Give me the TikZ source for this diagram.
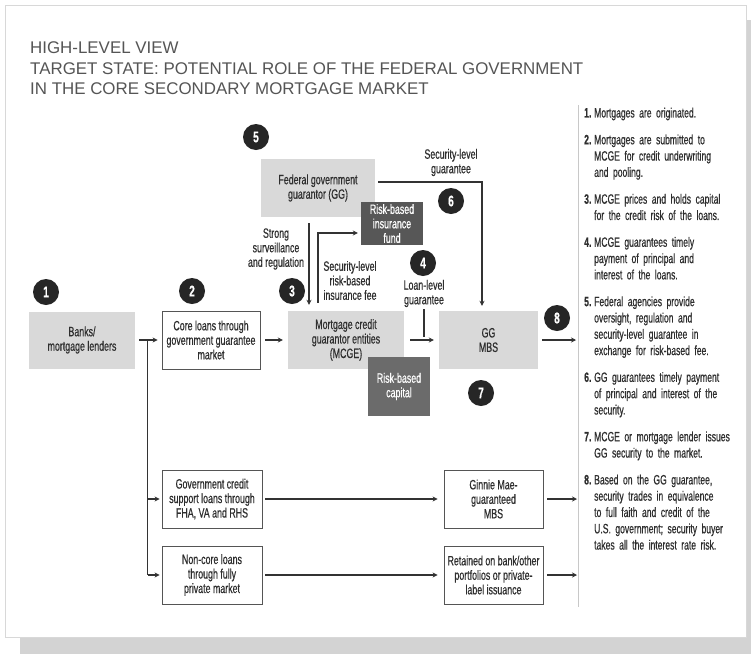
\documentclass[tikz,border=0pt]{standalone}
\usepackage{fontspec}
\setmainfont{Liberation Sans}
\newfontfamily\cond{Liberation Sans}[FakeStretch=0.655, FakeBold=0.5]
\newfontfamily\condl{Liberation Sans}[FakeStretch=0.635, FakeBold=0.5]
\usetikzlibrary{arrows.meta}
\definecolor{lgray}{HTML}{D9D9D9}
\definecolor{fundc}{HTML}{575757}
\definecolor{capc}{HTML}{6B6B6B}
\definecolor{txt}{HTML}{2E2E2E}
\definecolor{circ}{HTML}{262626}
\definecolor{ttl}{HTML}{555555}
\definecolor{linec}{HTML}{333333}
\definecolor{bord}{HTML}{555555}
\definecolor{panelb}{HTML}{D8D8D8}
\definecolor{shadowc}{HTML}{D3D3D3}
\definecolor{sepc}{HTML}{C8C8C8}
\newcommand\bxf{\cond\fontsize{13.5}{14.5}\selectfont}
\newcommand\lstf{\condl\fontsize{13.5}{16.3}\selectfont}
\newcommand\numf{\cond\bfseries\fontsize{15.5}{15.5}\selectfont}
\newcommand\lstitem[2]{\hangindent=10pt\hangafter=1\makebox[10pt][l]{\textbf{#1.}}#2\par}
\begin{document}
\begin{tikzpicture}[x=1pt,y=-1pt,
  gbox/.style={fill=lgray, draw=none, inner sep=0pt, align=center, font=\bxf, text=txt},
  wbox/.style={fill=white, draw=bord, line width=0.8pt, inner sep=0pt, align=center, font=\bxf, text=txt},
  dbox/.style={draw=none, inner sep=0pt, align=center, font=\bxf, text=white},
  num/.style={circle, fill=circ, text=white, minimum size=26pt, inner sep=0pt, font=\numf},
  lbl/.style={align=center, font=\bxf, text=txt, inner sep=0pt},
  arr/.style={draw=linec, line width=1.3pt, -{Stealth[length=5pt,width=5pt]}},
  ln/.style={draw=linec, line width=1.3pt}]
\useasboundingbox (0,0) rectangle (751,656);
% panel and shadow
\fill[shadowc] (20,20) rectangle (751,654);
\draw[fill=white, draw=panelb, line width=0.8pt] (5,5) rectangle (746,637);
% title
\node[anchor=base west, inner sep=0pt, text=ttl, font=\fontsize{16.9}{20}\selectfont] (t1) at (30,53) {HIGH-LEVEL VIEW};
\node[anchor=base west, inner sep=0pt, text=ttl, font=\fontsize{16.9}{20}\selectfont] (t2) at (30,74) {TARGET STATE: POTENTIAL ROLE OF THE FEDERAL GOVERNMENT};
\node[anchor=base west, inner sep=0pt, text=ttl, font=\fontsize{16.9}{20}\selectfont] (t3) at (30,94) {IN THE CORE SECONDARY MORTGAGE MARKET};
% boxes
\node[gbox, minimum width=106pt, minimum height=57pt] (banks) at (82,340) {Banks/\\mortgage lenders};
\node[wbox, minimum width=98pt, minimum height=58pt] (core) at (211,340) {Core loans through\\government guarantee\\market};
\node[gbox, minimum width=116pt, minimum height=58pt] (mcge) at (346,340) {Mortgage credit\\guarantor entities\\(MCGE)};
\node[dbox, fill=capc, minimum width=62pt, minimum height=59pt] (cap) at (399,386.5) {Risk-based\\capital};
\node[gbox, minimum width=99pt, minimum height=58pt] (ggmbs) at (488.5,340) {GG\\MBS};
\node[gbox, minimum width=114pt, minimum height=58pt] (fgg) at (318,188) {Federal government\\guarantor (GG)};
\node[dbox, fill=fundc, minimum width=62pt, minimum height=43pt] (fund) at (392,223.5) {Risk-based\\insurance\\fund};
\node[wbox, minimum width=100pt, minimum height=58pt] (gov) at (212,499) {Government credit\\support loans through\\FHA, VA and RHS};
\node[wbox, minimum width=99pt, minimum height=58pt] (ginnie) at (493.5,499) {Ginnie Mae-\\guaranteed\\MBS};
\node[wbox, minimum width=100pt, minimum height=58pt] (noncore) at (212,575) {Non-core loans\\through fully\\private market};
\node[wbox, minimum width=99pt, minimum height=58pt] (ret) at (493.5,575) {Retained on bank/other\\portfolios or private-\\label issuance};
% labels
\node[lbl] (lsec) at (451,162.5) {Security-level\\guarantee};
\node[lbl] (lsur) at (276,249) {Strong\\surveillance\\and regulation};
\node[lbl] (lfee) at (350,280.5) {Security-level\\risk-based\\insurance fee};
\node[lbl] (lloan) at (424,293.5) {Loan-level\\guarantee};
% number circles
\node[num] (c1) at (46,292) {1};
\node[num] (c2) at (192,291) {2};
\node[num] (c3) at (292,291) {3};
\node[num] (c4) at (423,263) {4};
\node[num] (c5) at (256,137) {5};
\node[num] (c6) at (451,201) {6};
\node[num] (c7) at (481,393) {7};
\node[num] (c8) at (557,318) {8};
% coordinates
\coordinate (jx) at (147.5,340);
\coordinate (sx) at (309,0);
\coordinate (fx) at (318,0);
\coordinate (ll1) at (424,309);
\coordinate (ll2) at (424,337);
\coordinate (o1) at (576,340);
\coordinate (o2) at (577,499);
\coordinate (o3) at (577,575);
\coordinate (sep1) at (578,105);
\coordinate (sep2) at (578,607);
% connectors
\draw[arr, shorten <=4pt, shorten >=4pt] (banks.east) -- (core.west);
\draw[ln] (jx) -- (jx |- noncore);
\draw[arr, shorten >=2pt] (jx |- gov) -- (gov.west);
\draw[arr, shorten >=2pt] (jx |- noncore) -- (noncore.west);
\draw[arr, shorten <=5pt, shorten >=5pt] (core.east) -- (mcge.west);
\draw[arr, shorten <=6pt, shorten >=5pt] (mcge.east) -- (ggmbs.west);
\draw[arr, shorten <=4pt] (ggmbs.east) -- (o1);
\draw[arr, shorten <=3pt, shorten >=6pt] (gov.east) -- (ginnie.west);
\draw[arr, shorten <=3pt, shorten >=6pt] (noncore.east) -- (ret.west);
\draw[arr, shorten <=4pt] (ginnie.east) -- (o2);
\draw[arr, shorten <=4pt] (ret.east) -- (o3);
\draw[arr, shorten <=3pt, shorten >=5pt] ([yshift=6pt]fgg.east) -| ([xshift=-6.5pt]ggmbs.north);
\draw[arr, shorten <=6pt, shorten >=6pt] (sx |- fgg.south) -- (sx |- mcge.north);
\draw[arr, shorten <=8pt, shorten >=3pt] (fx |- mcge.north) |- ([yshift=-9.5pt]fund.west);
\draw[ln] (ll1) -- (ll2);
% right column
\draw[draw=sepc, line width=1pt] (sep1) -- (sep2);
\node[anchor=north west, inner sep=0pt, text width=165pt, font=\lstf, text=txt] (list) at (584,107.5) {%
\setlength\parskip{10.5pt}\setlength\parindent{0pt}\raggedright
\lstitem{1}{Mortgages are originated.}
\lstitem{2}{Mortgages are submitted to\newline MCGE for credit underwriting\newline and pooling.}
\lstitem{3}{MCGE prices and holds capital\newline for the credit risk of the loans.}
\lstitem{4}{MCGE guarantees timely\newline payment of principal and\newline interest of the loans.}
\lstitem{5}{Federal agencies provide\newline oversight, regulation and\newline security-level guarantee in\newline exchange for risk-based fee.}
\lstitem{6}{GG guarantees timely payment\newline of principal and interest of the\newline security.}
\lstitem{7}{MCGE or mortgage lender issues\newline GG security to the market.}
\lstitem{8}{Based on the GG guarantee,\newline security trades in equivalence\newline to full faith and credit of the\newline U.S. government; security buyer\newline takes all the interest rate risk.}
};
\end{tikzpicture}
\end{document}
